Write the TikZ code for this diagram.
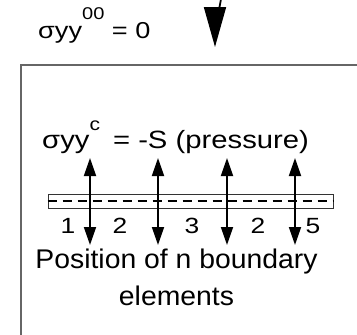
\documentclass[tikz,border=0pt]{standalone}
\usepackage{fontspec}
\setmainfont{Liberation Sans}
\usetikzlibrary{arrows.meta,positioning}

\begin{document}
\begin{tikzpicture}[
    x=1pt, y=-1pt,
    frame/.style={draw=black!60, line width=1.2pt},
    loadarrow/.style={line width=1.8pt, -{Triangle[length=40pt,width=22pt]}},
    stressarrow/.style={line width=1.8pt, {Triangle[length=18pt,width=12pt]}-{Triangle[length=18pt,width=12pt]}},
    stripbox/.style={draw=black!80, line width=0.9pt, minimum width=285pt, minimum height=14pt, inner sep=0pt},
    elemline/.style={line width=1.8pt, dash pattern=on 9pt off 6pt},
    toptext/.style={font=\fontsize{23}{23}\selectfont, inner sep=0pt, transform shape, xscale=1.18},
    sigtext/.style={font=\fontsize{25}{25}\selectfont, inner sep=0pt, transform shape, xscale=1.17},
    numtext/.style={font=\fontsize{22}{22}\selectfont, inner sep=0pt, transform shape, xscale=1.2},
    labeltext/.style={font=\fontsize{27}{37}\selectfont, align=center, inner sep=0pt, transform shape, xscale=1.05}
]
\useasboundingbox (0,0) rectangle (357,335);

% Far-field stress and applied load
\node [toptext, anchor=base west] (farfield) at (38,38) {σyy\raisebox{0.8em}{\fontsize{17}{17}\selectfont 00} = 0};
\coordinate (loadtop) at (221,-1);
\coordinate (loadtip) at (215,47);
\draw [loadarrow] (loadtop) to[out=-100,in=90] (loadtip);

% Body outline
\coordinate (bodybl) at (21,345);
\coordinate (bodytl) at (21,65);
\coordinate (bodytr) at (365,65);
\draw [frame] (bodybl) -- (bodytl) -- (bodytr);

% Crack stress
\node [sigtext, anchor=base west] (crackstress) at (42,148) {σyy\raisebox{0.7em}{\fontsize{18}{18}\selectfont c} \,= -S (pressure)};

% Crack strip with boundary elements
\node [stripbox] (strip) at (190.5,201) {};
\draw [elemline] (strip.west) -- (strip.east);

\foreach \x [count=\i] in {90,158,227,295} {
    \coordinate (up\i) at (\x,158);
    \coordinate (dn\i) at (\x,245);
    \draw [stressarrow] (dn\i) -- (up\i);
}

% Element numbers
\foreach \x/\n [count=\i] in {68/1,120/2,192/3,258/2,313/5} {
    \node [numtext, anchor=base] (num\i) at (\x,233) {\n};
}

% Caption
\node [labeltext, anchor=base] (caption) at (176.5,305) {Position of n boundary\\elements};

\end{tikzpicture}
\end{document}
